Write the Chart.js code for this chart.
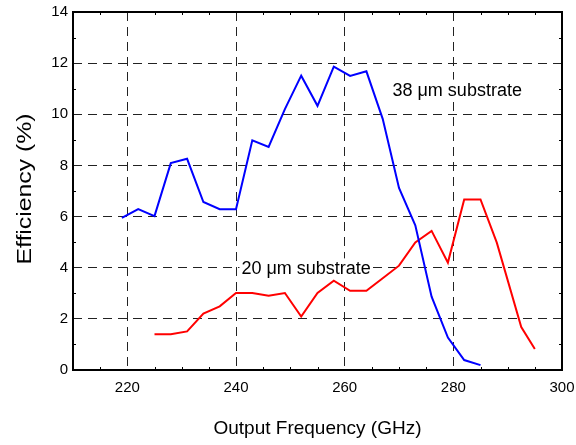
<!DOCTYPE html>
<html>
<head>
<meta charset="utf-8">
<script src="https://cdn.jsdelivr.net/npm/chart.js@4/dist/chart.umd.min.js"></script>
<style>
  html, body { margin: 0; padding: 0; background: #fff; }
</style>
</head>
<body>
<canvas id="canvas" width="576" height="445"></canvas>
<script>
// 38 um substrate (blue)
const blueFreq = [219, 222, 225, 228, 231, 234, 237, 240, 243, 246, 249, 252, 255, 258, 261, 264, 267, 270, 273, 276, 279, 282, 285];
const blueEff = [5.95, 6.29, 6.02, 8.09, 8.26, 6.57, 6.29, 6.29, 8.98, 8.72, 10.2, 11.51, 10.33, 11.86, 11.5, 11.68, 9.82, 7.12, 5.66, 2.87, 1.27, 0.39, 0.19];

// 20 um substrate (red)
const redFreq = [225, 228, 231, 234, 237, 240, 243, 246, 249, 252, 255, 258, 261, 264, 267, 270, 273, 276, 279, 282, 285, 288, 292.5, 295];
const redEff = [1.40, 1.40, 1.51, 2.21, 2.49, 3.01, 3.01, 2.90, 3.01, 2.09, 3.01, 3.49, 3.10, 3.10, 3.59, 4.08, 4.99, 5.44, 4.20, 6.67, 6.67, 4.98, 1.68, 0.82];

const xTicks = [220, 240, 260, 280, 300];
const xMinor = [215, 225, 230, 235, 245, 250, 255, 265, 270, 275, 285, 290, 295];
const yMinor = [1, 3, 5, 7, 9, 11, 13];

const noteText = ['38 \u03bcm substrate', '20 \u03bcm substrate'];
const noteX = [268.8, 241.0];
const noteY = [10.73, 3.74];

const FONT = "'Liberation Sans', Arial, sans-serif";

function pairs(xs, ys) {
  return xs.map((x, i) => ({ x: x, y: ys[i] }));
}

const extras = {
  id: 'extras',
  beforeDatasetsDraw(chart) {
    const ctx = chart.ctx;
    const xs = chart.scales.x, ys = chart.scales.y;
    ctx.save();
    ctx.font = '18px ' + FONT;
    ctx.textBaseline = 'alphabetic';
    ctx.textAlign = 'left';
    for (let i = 0; i < noteText.length; i++) {
      const px = xs.getPixelForValue(noteX[i]);
      const py = ys.getPixelForValue(noteY[i]);
      const w = ctx.measureText(noteText[i]).width;
      ctx.fillStyle = '#fff';
      ctx.fillRect(px - 2, py - 16, w + 4, 21);
      ctx.fillStyle = '#000';
      ctx.fillText(noteText[i], px, py);
    }
    ctx.restore();
  },
  afterDraw(chart) {
    const ctx = chart.ctx;
    const a = chart.chartArea;
    const xs = chart.scales.x, ys = chart.scales.y;
    ctx.save();
    ctx.strokeStyle = '#000';
    ctx.lineWidth = 1;
    ctx.beginPath();
    xMinor.forEach(v => {
      const px = Math.round(xs.getPixelForValue(v)) + 0.5;
      ctx.moveTo(px, a.bottom); ctx.lineTo(px, a.bottom - 3);
      ctx.moveTo(px, a.top); ctx.lineTo(px, a.top + 3);
    });
    yMinor.forEach(v => {
      const py = Math.round(ys.getPixelForValue(v)) + 0.5;
      ctx.moveTo(a.left, py); ctx.lineTo(a.left + 3, py);
      ctx.moveTo(a.right, py); ctx.lineTo(a.right - 3, py);
    });
    ctx.stroke();
    ctx.lineWidth = 2;
    ctx.strokeRect(a.left, a.top, a.right - a.left, a.bottom - a.top);

    // y axis title, stretched like the original
    ctx.fillStyle = '#000';
    ctx.font = '20px ' + FONT;
    ctx.textAlign = 'center';
    ctx.textBaseline = 'middle';
    ctx.translate(25, 189);
    ctx.rotate(-Math.PI / 2);
    ctx.scale(1.24, 1);
    ctx.fillText('Efficiency (%)', 0, 0);
    ctx.restore();
  }
};

new Chart(document.getElementById('canvas').getContext('2d'), {
  type: 'line',
  data: {
    datasets: [
      {
        label: '38 \u03bcm substrate',
        data: pairs(blueFreq, blueEff),
        borderColor: '#0000ff',
        backgroundColor: '#0000ff',
        borderWidth: 2,
        pointRadius: 0,
        tension: 0,
        fill: false
      },
      {
        label: '20 \u03bcm substrate',
        data: pairs(redFreq, redEff),
        borderColor: '#ff0000',
        backgroundColor: '#ff0000',
        borderWidth: 2,
        pointRadius: 0,
        tension: 0,
        fill: false
      }
    ]
  },
  options: {
    responsive: false,
    animation: false,
    layout: { padding: { top: 12, right: 14, left: 0, bottom: 0 } },
    plugins: {
      legend: { display: false },
      tooltip: { enabled: false }
    },
    scales: {
      x: {
        type: 'linear',
        min: 210,
        max: 300,
        afterBuildTicks: s => { s.ticks = xTicks.map(v => ({ value: v })); },
        afterFit: s => { s.height = 75; s.paddingLeft = 0; s.paddingRight = 0; },
        grid: { color: '#222', lineWidth: 1, drawTicks: false, tickLength: 0 },
        border: { display: false, dash: [9, 6] },
        ticks: { color: '#000', font: { family: FONT, size: 15 }, padding: 9, maxRotation: 0 },
        title: {
          display: true,
          text: 'Output Frequency (GHz)',
          color: '#000',
          font: { family: FONT, size: 19 },
          padding: { top: 0, bottom: 5 }
        }
      },
      y: {
        min: 0,
        max: 14,
        ticks: { stepSize: 2, color: '#000', font: { family: FONT, size: 15 }, padding: 5 },
        afterFit: s => { s.width = 73; s.paddingTop = 0; s.paddingBottom = 0; },
        grid: { color: '#222', lineWidth: 1, drawTicks: false, tickLength: 0 },
        border: { display: false, dash: [9, 6] }
      }
    }
  },
  plugins: [extras]
});
</script>
</body>
</html>
